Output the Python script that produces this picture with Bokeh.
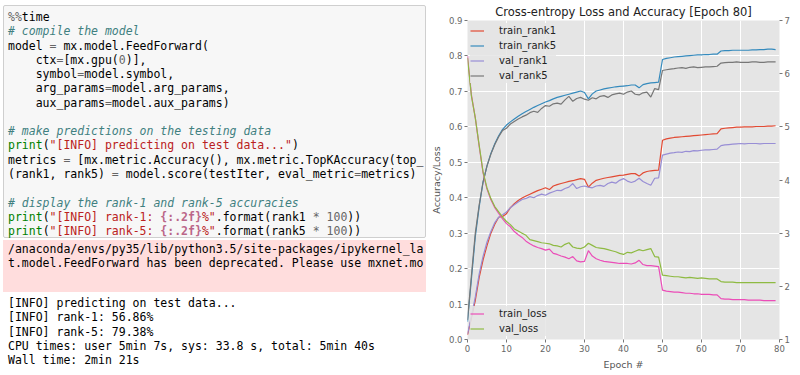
import re
import html
from bokeh.plotting import figure
from bokeh.models import (Range1d, LinearAxis, FixedTicker, PrintfTickFormatter,
                          Legend, LegendItem, Div)
from bokeh.layouts import row
from bokeh.embed import file_html
from bokeh.resources import INLINE

# ---------------- notebook text ----------------
CODE_LINES = [
    '%%time',
    '# compile the model',
    'model = mx.model.FeedForward(',
    '    ctx=[mx.gpu(0)],',
    '    symbol=model.symbol,',
    '    arg_params=model.arg_params,',
    '    aux_params=model.aux_params)',
    '',
    '# make predictions on the testing data',
    'print("[INFO] predicting on test data...")',
    'metrics = [mx.metric.Accuracy(), mx.metric.TopKAccuracy(top_k=5)]',
    '(rank1, rank5) = model.score(testIter, eval_metric=metrics)',
    '',
    '# display the rank-1 and rank-5 accuracies',
    'print("[INFO] rank-1: {:.2f}%".format(rank1 * 100))',
    'print("[INFO] rank-5: {:.2f}%".format(rank5 * 100))',
]
STDERR_LINES = [
    '/anaconda/envs/py35/lib/python3.5/site-packages/ipykernel_launcher.py:7: DeprecationWarning: mxne',
    't.model.FeedForward has been deprecated. Please use mxnet.mod.Module instead.',
]
OUTPUT_LINES = [
    '[INFO] predicting on test data...',
    '[INFO] rank-1: 56.86%',
    '[INFO] rank-5: 79.38%',
    'CPU times: user 5min 7s, sys: 33.8 s, total: 5min 40s',
    'Wall time: 2min 21s',
]

# ---------------- chart data ----------------
EPOCHS = list(range(80))
TRAIN_RANK1 = [0.013, 0.060, 0.110, 0.175, 0.225, 0.265, 0.300, 0.325, 0.345, 0.347,
               0.355, 0.372, 0.383, 0.392, 0.399, 0.405, 0.410, 0.415, 0.420, 0.424,
               0.428, 0.423, 0.433, 0.437, 0.440, 0.443, 0.446, 0.448, 0.451, 0.454,
               0.452, 0.430, 0.441, 0.449, 0.452, 0.455, 0.457, 0.459, 0.461, 0.463,
               0.464, 0.466, 0.468, 0.468, 0.461, 0.470, 0.474, 0.476, 0.477, 0.478,
               0.562, 0.566, 0.568, 0.570, 0.571, 0.572, 0.573, 0.574, 0.575, 0.576,
               0.577, 0.578, 0.579, 0.580, 0.581, 0.594, 0.596, 0.597, 0.598, 0.599,
               0.599, 0.600, 0.600, 0.600, 0.601, 0.601, 0.601, 0.602, 0.602, 0.603]
TRAIN_RANK5 = [0.050, 0.170, 0.290, 0.375, 0.445, 0.490, 0.525, 0.552, 0.575, 0.593,
               0.605, 0.614, 0.622, 0.630, 0.637, 0.643, 0.649, 0.655, 0.660, 0.665,
               0.670, 0.674, 0.679, 0.683, 0.686, 0.689, 0.692, 0.695, 0.698, 0.701,
               0.697, 0.679, 0.693, 0.701, 0.704, 0.707, 0.709, 0.711, 0.713, 0.714,
               0.715, 0.716, 0.718, 0.718, 0.710, 0.719, 0.722, 0.724, 0.725, 0.726,
               0.790, 0.793, 0.795, 0.797, 0.798, 0.799, 0.800, 0.801, 0.802, 0.803,
               0.803, 0.804, 0.804, 0.805, 0.805, 0.814, 0.815, 0.815, 0.816, 0.816,
               0.816, 0.816, 0.816, 0.817, 0.817, 0.818, 0.818, 0.819, 0.819, 0.818]
VAL_RANK1 = [0.015, 0.065, 0.120, 0.185, 0.235, 0.275, 0.305, 0.330, 0.345, 0.352,
             0.360, 0.372, 0.380, 0.388, 0.395, 0.398, 0.403, 0.400, 0.406, 0.410,
             0.407, 0.413, 0.417, 0.421, 0.420, 0.426, 0.430, 0.440, 0.426, 0.431,
             0.433, 0.430, 0.428, 0.433, 0.435, 0.432, 0.440, 0.444, 0.441, 0.449,
             0.454, 0.447, 0.443, 0.447, 0.455, 0.446, 0.440, 0.435, 0.455, 0.456,
             0.520, 0.523, 0.526, 0.527, 0.529, 0.528, 0.531, 0.530, 0.533, 0.532,
             0.534, 0.535, 0.535, 0.536, 0.537, 0.547, 0.549, 0.550, 0.551, 0.552,
             0.553, 0.552, 0.553, 0.553, 0.553, 0.552, 0.553, 0.553, 0.553, 0.553]
VAL_RANK5 = [0.055, 0.180, 0.300, 0.380, 0.445, 0.490, 0.523, 0.550, 0.572, 0.590,
             0.596, 0.608, 0.615, 0.622, 0.628, 0.633, 0.640, 0.644, 0.641, 0.652,
             0.660, 0.658, 0.665, 0.667, 0.664, 0.676, 0.686, 0.672, 0.680, 0.683,
             0.678, 0.675, 0.682, 0.679, 0.686, 0.688, 0.683, 0.690, 0.693, 0.695,
             0.692, 0.698, 0.701, 0.692, 0.690, 0.696, 0.698, 0.684, 0.708, 0.705,
             0.759, 0.761, 0.763, 0.764, 0.766, 0.767, 0.765, 0.768, 0.769, 0.767,
             0.768, 0.769, 0.769, 0.770, 0.771, 0.780, 0.781, 0.782, 0.782, 0.783,
             0.782, 0.782, 0.782, 0.783, 0.783, 0.782, 0.782, 0.783, 0.783, 0.783]
TRAIN_LOSS = [6.33, 5.60, 5.17, 4.63, 4.13, 3.83, 3.63, 3.48, 3.37, 3.27,
              3.18, 3.12, 3.03, 2.97, 2.92, 2.85, 2.80, 2.76, 2.73, 2.71,
              2.68, 2.70, 2.62, 2.60, 2.57, 2.55, 2.52, 2.56, 2.48, 2.46,
              2.47, 2.67, 2.57, 2.52, 2.49, 2.47, 2.46, 2.45, 2.44, 2.43,
              2.43, 2.43, 2.42, 2.44, 2.49, 2.41, 2.39, 2.39, 2.38, 2.37,
              1.93, 1.91, 1.90, 1.89, 1.89, 1.88, 1.87, 1.87, 1.86, 1.86,
              1.85, 1.85, 1.85, 1.84, 1.84, 1.77, 1.76, 1.76, 1.75, 1.75,
              1.75, 1.75, 1.74, 1.74, 1.74, 1.74, 1.73, 1.73, 1.73, 1.73]
VAL_LOSS = [6.30, 5.58, 5.17, 4.65, 4.15, 3.85, 3.65, 3.50, 3.40, 3.30,
            3.22, 3.16, 3.08, 3.04, 3.00, 2.96, 2.88, 2.86, 2.84, 2.82,
            2.81, 2.80, 2.77, 2.76, 2.74, 2.79, 2.82, 2.74, 2.72, 2.71,
            2.74, 2.81, 2.77, 2.73, 2.72, 2.71, 2.69, 2.67, 2.65, 2.62,
            2.60, 2.64, 2.63, 2.66, 2.69, 2.67, 2.69, 2.71, 2.56, 2.55,
            2.21, 2.20, 2.19, 2.18, 2.18, 2.17, 2.16, 2.17, 2.16, 2.15,
            2.16, 2.15, 2.14, 2.14, 2.14, 2.09, 2.08, 2.08, 2.08, 2.07,
            2.07, 2.07, 2.07, 2.07, 2.07, 2.07, 2.07, 2.07, 2.07, 2.07]
X_TICKS = [0, 10, 20, 30, 40, 50, 60, 70, 80]
Y_TICKS = [0.0, 0.1, 0.2, 0.3, 0.4, 0.5, 0.6, 0.7, 0.8, 0.9]
Y2_TICKS = [1, 2, 3, 4, 5, 6, 7]
TITLE = "Cross-entropy Loss and Accuracy [Epoch 80]"

# ---------------- notebook panel (HTML) ----------------
NB_W, NB_H = 426, 372
FS = 11.5
CW = 0.602 * FS
X0 = 8
MAXC = int((NB_W - 2 - X0) / CW)

C_TEXT, C_COMMENT, C_STR, C_INTERP = "#000000", "#408080", "#BA2121", "#BB6688"
C_NUM, C_OP, C_BUILTIN = "#666666", "#666666", "#008000"

TOK = re.compile(r'(?P<str>"[^"]*")|(?P<num>\b\d+\b)|(?P<bi>\bprint\b)|(?P<op>[=*%])')


def highlight(line):
    attrs = [(C_TEXT, "normal")] * len(line)
    if line.lstrip().startswith("#"):
        attrs = [(C_COMMENT, "italic")] * len(line)
    else:
        for m in TOK.finditer(line):
            k = m.lastgroup
            a = {"str": (C_STR, "normal"), "num": (C_NUM, "normal"),
                 "bi": (C_BUILTIN, "normal"), "op": (C_OP, "normal")}[k]
            for i in range(m.start(), m.end()):
                attrs[i] = a
            if k == "str":
                for im in re.finditer(r'\{[^}]*\}', m.group()):
                    for i in range(m.start() + im.start(), m.start() + im.end()):
                        attrs[i] = (C_INTERP, "bold")
    return attrs


def plain(line):
    return [(C_TEXT, "normal")] * len(line)


def line_html(line, attrs, yc):
    line = line[:MAXC]  # the notebook column hides what lies beyond its right edge
    spans = []
    i = 0
    while i < len(line):
        j = i
        while j < len(line) and attrs[j] == attrs[i]:
            j += 1
        color, style = attrs[i]
        css = f"color:{color};"
        if style == "italic":
            css += "font-style:italic;"
        elif style == "bold":
            css += "font-weight:bold;"
        spans.append(f'<span style="{css}">{html.escape(line[i:j])}</span>')
        i = j
    return (f'<div style="position:absolute;left:{X0}px;top:{yc - 7:.1f}px;height:14px;'
            f'line-height:14px;white-space:pre;">{"".join(spans)}</div>')


parts = [f'<div style="position:relative;width:{NB_W}px;height:{NB_H}px;overflow:hidden;'
         f"background:#ffffff;font-family:'DejaVu Sans Mono',monospace;font-size:{FS}px;"
         'color:#000000;">',
         '<div style="position:absolute;left:3px;top:5px;width:423px;height:233px;'
         'box-sizing:border-box;background:#F7F7F7;border:1px solid #CFCFCF;'
         'border-radius:2px;"></div>',
         '<div style="position:absolute;left:3px;top:240px;width:423px;height:52px;'
         'background:#FFDDDD;"></div>']
for k, ln in enumerate(CODE_LINES):
    parts.append(line_html(ln, highlight(ln), 17 + 14.27 * k))
for k, ln in enumerate(STDERR_LINES):
    parts.append(line_html(ln, plain(ln), 249 + 14.27 * k))
for k, ln in enumerate(OUTPUT_LINES):
    parts.append(line_html(ln, plain(ln), 303 + 14.25 * k))
parts.append('</div>')

nb = Div(text="".join(parts), width=NB_W, height=NB_H, margin=(0, 0, 0, 0))

# ---------------- chart panel ----------------
SANS = "DejaVu Sans"
p = figure(width=366, height=372, x_range=Range1d(0, 80), y_range=Range1d(0, 0.9),
           output_backend="svg", toolbar_location=None, title=TITLE,
           min_border_left=41, min_border_right=12, min_border_top=20,
           min_border_bottom=31, margin=(0, 0, 0, 0))
p.extra_y_ranges = {"loss": Range1d(1, 7)}
p.title.align = "center"
p.title.text_font = SANS
p.title.text_font_size = "11.5px"
p.title.text_font_style = "normal"
p.title.text_color = "#222222"
p.title.standoff = 4

p.background_fill_color = "#E5E5E5"
p.border_fill_color = "white"
p.outline_line_color = None

xt = FixedTicker(ticks=X_TICKS)
yt = FixedTicker(ticks=Y_TICKS)
p.xaxis.ticker = xt
p.xaxis.formatter = PrintfTickFormatter(format="%d")
p.yaxis.ticker = yt
p.yaxis.formatter = PrintfTickFormatter(format="%.1f")
p.xgrid.ticker = xt
p.ygrid.ticker = yt
p.grid.grid_line_color = "white"
p.grid.grid_line_width = 1

right = LinearAxis(y_range_name="loss", ticker=FixedTicker(ticks=Y2_TICKS),
                   formatter=PrintfTickFormatter(format="%d"))
p.add_layout(right, "right")

for ax in p.axis:
    ax.axis_line_color = None
    ax.major_tick_line_color = "#777777"
    ax.major_tick_out = 3
    ax.major_tick_in = 0
    ax.minor_tick_line_color = None
    ax.minor_tick_out = 0
    ax.minor_tick_in = 0
    ax.major_label_text_color = "#666666"
    ax.major_label_text_font = SANS
    ax.major_label_text_font_size = "8.5px"
    ax.major_label_standoff = 2
    ax.axis_label_text_font = SANS
    ax.axis_label_text_font_size = "9.5px"
    ax.axis_label_text_font_style = "normal"
    ax.axis_label_text_color = "#555555"

p.xaxis.axis_label = "Epoch #"
p.xaxis.axis_label_standoff = 4
p.yaxis[0].axis_label = "Accuracy/Loss"
p.yaxis[0].axis_label_standoff = 4

LW = 1.2
r1 = p.line(EPOCHS, TRAIN_RANK1, line_color="#E24A33", line_width=LW)
r2 = p.line(EPOCHS, TRAIN_RANK5, line_color="#348ABD", line_width=LW)
r3 = p.line(EPOCHS, VAL_RANK1, line_color="#988ED5", line_width=LW)
r4 = p.line(EPOCHS, VAL_RANK5, line_color="#777777", line_width=LW)
r5 = p.line(EPOCHS, TRAIN_LOSS, line_color="#EB4DB8", line_width=LW, y_range_name="loss")
r6 = p.line(EPOCHS, VAL_LOSS, line_color="#8EBA42", line_width=LW, y_range_name="loss")


def style_legend(leg):
    leg.background_fill_color = "#E5E5E5"
    leg.background_fill_alpha = 0.85
    leg.border_line_color = None
    leg.label_text_font = SANS
    leg.label_text_font_size = "10px"
    leg.label_text_color = "#222222"
    leg.label_height = 15
    leg.glyph_height = 15
    leg.glyph_width = 14
    leg.label_standoff = 15
    leg.spacing = 0
    leg.padding = 4
    leg.margin = 3


leg1 = Legend(items=[LegendItem(label="train_rank1", renderers=[r1]),
                     LegendItem(label="train_rank5", renderers=[r2]),
                     LegendItem(label="val_rank1", renderers=[r3]),
                     LegendItem(label="val_rank5", renderers=[r4])],
              location="top_left")
leg2 = Legend(items=[LegendItem(label="train_loss", renderers=[r5]),
                     LegendItem(label="val_loss", renderers=[r6])],
              location="bottom_left")
style_legend(leg1)
style_legend(leg2)
p.add_layout(leg1)
p.add_layout(leg2)

layout = row(nb, p)
open("out.html", "w").write(file_html(layout, INLINE))
